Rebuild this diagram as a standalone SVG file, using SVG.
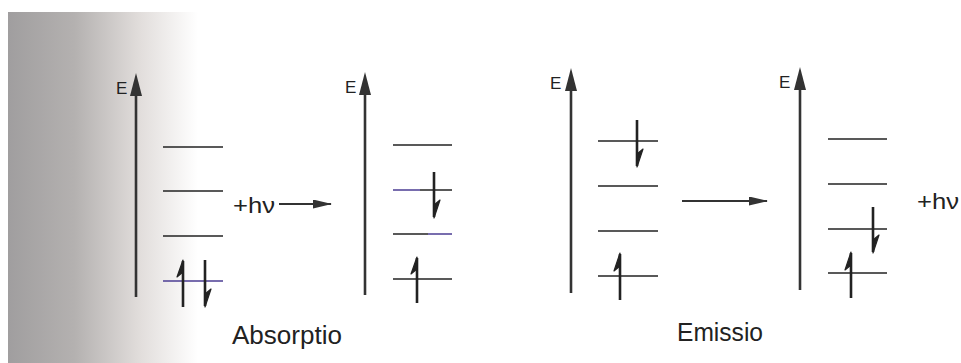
<svg xmlns="http://www.w3.org/2000/svg" width="961" height="363" viewBox="0 0 961 363">
  <defs>
    <linearGradient id="bg" x1="0" y1="0" x2="1" y2="0">
      <stop offset="0" stop-color="#a09e9f"/>
      <stop offset="0.35" stop-color="#b4b1b0"/>
      <stop offset="0.7" stop-color="#e2dedc"/>
      <stop offset="1" stop-color="#ffffff"/>
    </linearGradient>
    <marker id="ah" viewBox="0 0 19 9" refX="18" refY="4.5" markerWidth="19" markerHeight="9" markerUnits="userSpaceOnUse" orient="auto">
      <path d="M0,0 L19,4.5 L0,9 z" fill="#333"/>
    </marker>
    <style>
      .axis { stroke: #333; stroke-width: 2.6; fill: none; }
      .axhead { fill: #333; }
      .lvl { stroke: #222; stroke-width: 1.5; }
      .lvlp { stroke: #4b3c93; stroke-width: 1.5; }
      .el { stroke: #222; stroke-width: 2.6; fill: none; }
      .barb { fill: #222; stroke: #222; stroke-width: 1.2; stroke-linejoin: round; }
      .conn { stroke: #333; stroke-width: 1.8; fill: none; }
      .lbl { font-family: "Liberation Sans", Arial, sans-serif; fill: #222; }
      .e { font-size: 17px; }
      .hv { font-size: 22px; }
      .cap { font-size: 25px; }
    </style>
  </defs>
  <rect x="0" y="0" width="961" height="363" fill="#ffffff"/>
  <rect x="8" y="12" width="190" height="351" fill="url(#bg)"/>

  <!-- Panel 1 -->
  <g id="panel1">
    <line class="axis" x1="136" y1="95" x2="136" y2="297"/>
    <path class="axhead" d="M136,73 L142,96 L130,96 z"/>
    <text class="lbl e" x="116" y="94">E</text>
    <line class="lvl" x1="163" y1="147" x2="223" y2="147"/>
    <line class="lvl" x1="163" y1="191" x2="223" y2="191"/>
    <line class="lvl" x1="163" y1="236" x2="223" y2="236"/>
    <line class="lvlp" x1="163" y1="281" x2="223" y2="281"/>
    <g id="p1e1">
      <line class="el" x1="183" y1="261" x2="183" y2="307"/>
      <path class="barb" d="M183,260 L177,277 L183,272 z"/>
    </g>
    <g id="p1e2">
      <line class="el" x1="205" y1="260" x2="205" y2="306"/>
      <path class="barb" d="M205,307 L211,289 L205,294 z"/>
    </g>
  </g>

  <!-- Panel 2 -->
  <g id="panel2">
    <line class="axis" x1="365" y1="95" x2="365" y2="295"/>
    <path class="axhead" d="M365,72 L371,95 L359,95 z"/>
    <text class="lbl e" x="345" y="93">E</text>
    <line class="lvl" x1="393" y1="145" x2="452" y2="145"/>
    <line class="lvlp" x1="393" y1="190" x2="420" y2="190"/>
    <line class="lvl" x1="420" y1="190" x2="452" y2="190"/>
    <line class="lvl" x1="393" y1="234" x2="428" y2="234"/>
    <line class="lvlp" x1="428" y1="234" x2="452" y2="234"/>
    <line class="lvl" x1="393" y1="279" x2="452" y2="279"/>
    <g id="p2e1">
      <line class="el" x1="434" y1="172" x2="434" y2="217"/>
      <path class="barb" d="M434,218 L440,200 L434,205 z"/>
    </g>
    <g id="p2e2">
      <line class="el" x1="417" y1="258" x2="417" y2="303"/>
      <path class="barb" d="M417,257 L411,274 L417,269 z"/>
    </g>
  </g>

  <!-- Panel 3 -->
  <g id="panel3">
    <line class="axis" x1="571" y1="90" x2="571" y2="293"/>
    <path class="axhead" d="M571,68 L577,91 L565,91 z"/>
    <text class="lbl e" x="550" y="89">E</text>
    <line class="lvl" x1="598" y1="141" x2="658" y2="141"/>
    <line class="lvl" x1="598" y1="186" x2="658" y2="186"/>
    <line class="lvl" x1="598" y1="231" x2="658" y2="231"/>
    <line class="lvl" x1="598" y1="276" x2="658" y2="276"/>
    <g id="p3e1">
      <line class="el" x1="637" y1="120" x2="637" y2="166"/>
      <path class="barb" d="M637,167 L643,149 L637,154 z"/>
    </g>
    <g id="p3e2">
      <line class="el" x1="620" y1="254" x2="620" y2="300"/>
      <path class="barb" d="M620,253 L614,271 L620,266 z"/>
    </g>
  </g>

  <!-- Panel 4 -->
  <g id="panel4">
    <line class="axis" x1="800" y1="89" x2="800" y2="290"/>
    <path class="axhead" d="M800,67 L806,90 L794,90 z"/>
    <text class="lbl e" x="779" y="88">E</text>
    <line class="lvl" x1="828" y1="139" x2="887" y2="139"/>
    <line class="lvl" x1="828" y1="184" x2="887" y2="184"/>
    <line class="lvl" x1="828" y1="229" x2="887" y2="229"/>
    <line class="lvl" x1="828" y1="273" x2="887" y2="273"/>
    <g id="p4e1">
      <line class="el" x1="873" y1="207" x2="873" y2="252"/>
      <path class="barb" d="M873,253 L879,235 L873,240 z"/>
    </g>
    <g id="p4e2">
      <line class="el" x1="851" y1="253" x2="851" y2="298"/>
      <path class="barb" d="M851,252 L845,270 L851,265 z"/>
    </g>
  </g>

  <g id="connectors">
    <line class="conn" x1="279" y1="204" x2="331" y2="204" marker-end="url(#ah)"/>
    <line class="conn" x1="682" y1="201" x2="767" y2="201" marker-end="url(#ah)"/>
  </g>

  <g id="labels">
    <text class="lbl hv" x="233" y="213" textLength="42" lengthAdjust="spacingAndGlyphs">+hν</text>
    <text class="lbl hv" x="917" y="209" textLength="42" lengthAdjust="spacingAndGlyphs">+hν</text>
    <text class="lbl cap" x="232" y="344" textLength="110" lengthAdjust="spacingAndGlyphs">Absorptio</text>
    <text class="lbl cap" x="677" y="341" textLength="86" lengthAdjust="spacingAndGlyphs">Emissio</text>
  </g>
</svg>
